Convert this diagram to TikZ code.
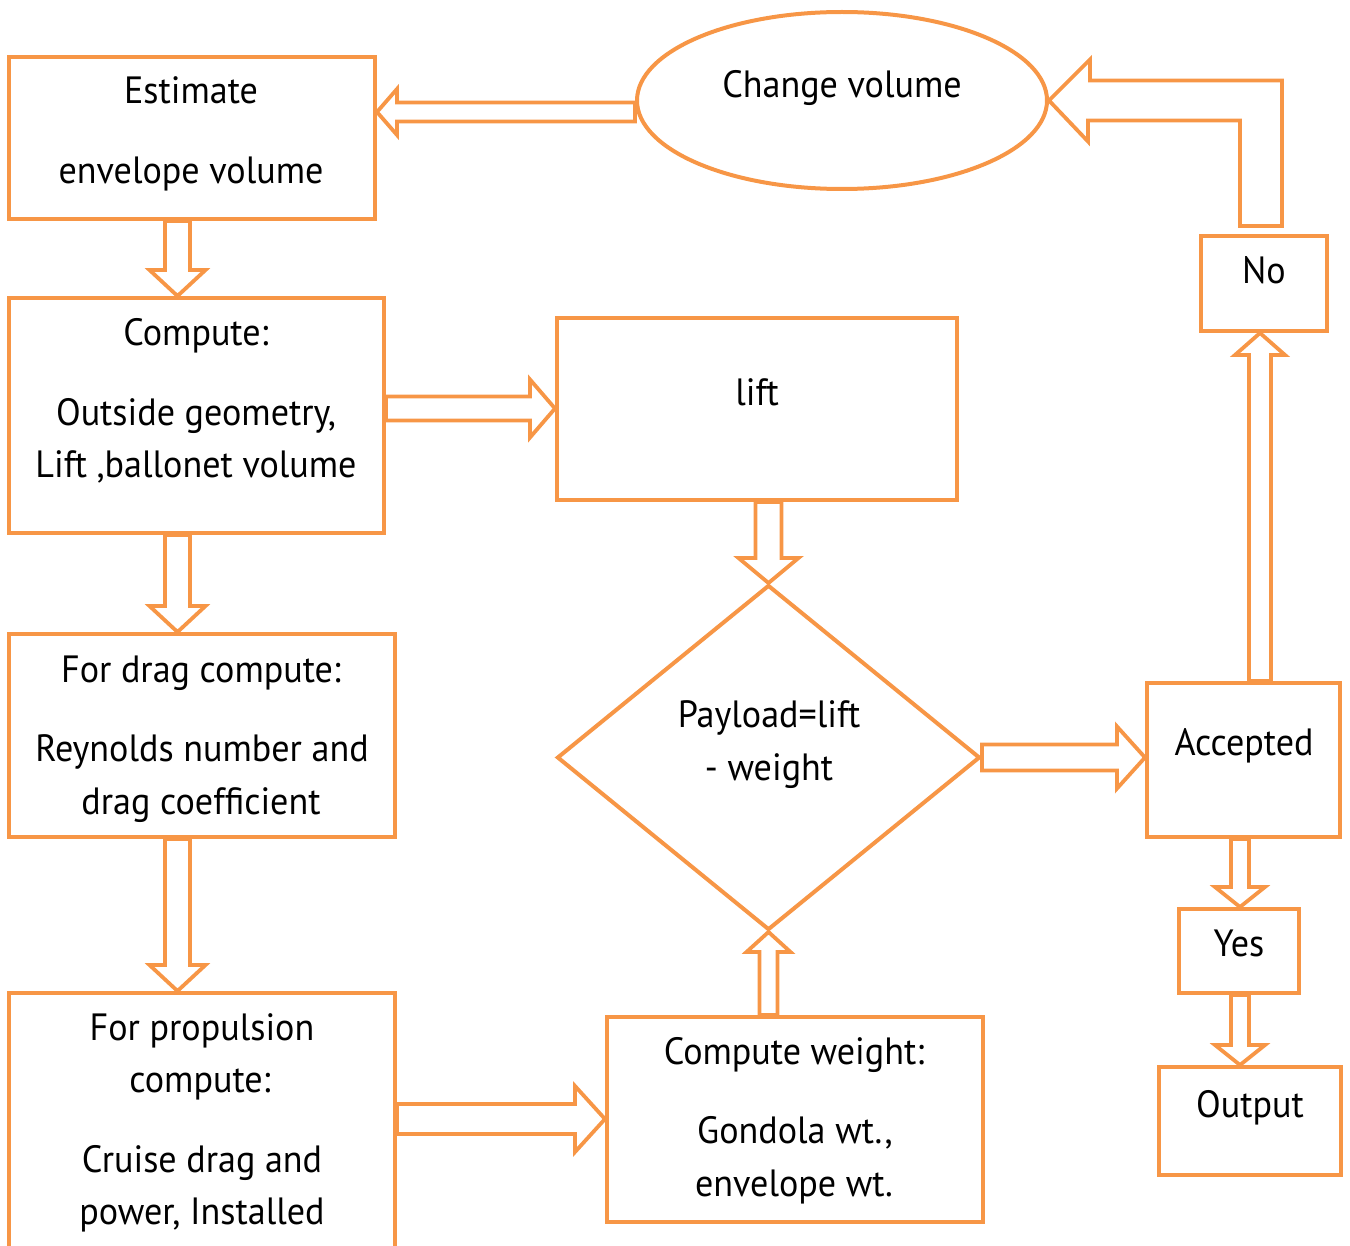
\documentclass[tikz,border=0pt]{standalone}
\usepackage{fontspec}
\setmainfont{PT Sans}[FakeStretch=0.95]
\usetikzlibrary{shapes.geometric,calc}
\definecolor{flowor}{RGB}{247,150,70}
\tikzset{
  flowbox/.style={draw=flowor, line width=2pt, rectangle, inner sep=0pt},
  blockarr/.style={draw=flowor, line width=1.9pt, line join=miter},
  lbl/.style={anchor=base, inner sep=0pt, font=\fontsize{19}{22}\selectfont},
}
% block arrow: start, tip, half shaft, half head, head length
\newcommand{\blockarrow}[5]{%
  \path (#1) coordinate (bs) (#2) coordinate (bt);
  \path ($(bt)!#5!(bs)$) coordinate (bb);
  \draw[blockarr] ($(bs)!#3!90:(bt)$) -- ($(bb)!#3!90:(bt)$) -- ($(bb)!#4!90:(bt)$) -- (bt)
    -- ($(bb)!#4!-90:(bt)$) -- ($(bb)!#3!-90:(bt)$) -- ($(bs)!#3!-90:(bt)$) -- cycle;
}
\begin{document}
\begin{tikzpicture}[x=0.5pt,y=-0.5pt]
    \useasboundingbox (0,0) rectangle (1350,1246);
    % boxes
    \node[flowbox, minimum width=183pt, minimum height=81pt] (est) at (192,138) {};
    \node[flowbox, minimum width=187.5pt, minimum height=117.5pt] (comp) at (196.5,415.5) {};
    \node[flowbox, minimum width=193pt, minimum height=101.5pt] (drag) at (202,735.5) {};
    \node[flowbox, minimum width=193pt, minimum height=130pt] (prop) at (202,1123) {};
    \node[flowbox, minimum width=200pt, minimum height=91pt] (lift) at (757,409) {};
    \node[draw=flowor, line width=2pt, diamond, inner sep=0pt,
          minimum width=211.5pt, minimum height=172.5pt] (dia) at (768.5,757.5) {};
    \node[flowbox, minimum width=188pt, minimum height=102.5pt] (cw) at (795,1119.5) {};
    \node[draw=flowor, line width=2pt, ellipse, inner sep=0pt,
          minimum width=205pt, minimum height=88.5pt] (chg) at (842,100.5) {};
    \node[flowbox, minimum width=63pt, minimum height=47.5pt] (no) at (1264,283.5) {};
    \node[flowbox, minimum width=96.5pt, minimum height=77pt] (acc) at (1243.5,760) {};
    \node[flowbox, minimum width=60pt, minimum height=42pt] (yes) at (1239,951) {};
    \node[flowbox, minimum width=91pt, minimum height=54pt] (out) at (1250,1121) {};
    % texts
    \node[lbl] (est1) at (191,104) {Estimate};
    \node[lbl] (est2) at (191,184) {envelope volume};
    \node[lbl] (comp1) at (196,346) {Compute:};
    \node[lbl] (comp2) at (196,425) {Outside geometry,};
    \node[lbl] (comp3) at (196,477) {Lift ,ballonet volume};
    \node[lbl] (drag1) at (201,682) {For drag compute:};
    \node[lbl] (drag2) at (202,761) {Reynolds number and};
    \node[lbl] (drag3) at (201,814) {drag coefficient};
    \node[lbl] (prop1) at (202,1040) {For propulsion};
    \node[lbl] (prop2) at (200,1092) {compute:};
    \node[lbl] (prop3) at (202,1172) {Cruise drag and};
    \node[lbl] (prop4) at (202,1224) {power, Installed};
    \node[lbl] (lift1) at (757,405) {lift};
    \node[lbl] (dia1) at (769,727) {Payload=lift};
    \node[lbl] (dia2) at (769,780) {- weight};
    \node[lbl] (cw1) at (794,1064) {Compute weight:};
    \node[lbl] (cw2) at (795,1143) {Gondola wt.,};
    \node[lbl] (cw3) at (794,1196) {envelope wt.};
    \node[lbl] (chg1) at (842,98) {Change volume};
    \node[lbl] (no1) at (1264,284) {No};
    \node[lbl] (acc1) at (1244,755) {Accepted};
    \node[lbl] (yes1) at (1239,956) {Yes};
    \node[lbl] (out1) at (1250,1117) {Output};
    % block arrows
    \blockarrow{177.5,0 |- est.south}{177.5,0 |- comp.north}{6.25pt}{14pt}{13pt}
    \blockarrow{177.5,0 |- comp.south}{177.5,0 |- drag.north}{6.25pt}{14pt}{13pt}
    \blockarrow{177.5,0 |- drag.south}{177.5,0 |- prop.north}{6.25pt}{14pt}{13pt}
    \blockarrow{comp.east |- 0,408.5}{lift.west |- 0,408.5}{6pt}{14.5pt}{12.5pt}
    \blockarrow{prop.east |- 0,1119}{cw.west |- 0,1119}{7.5pt}{16.5pt}{15pt}
    \blockarrow{dia.south |- cw.north}{dia.south}{4.5pt}{11pt}{10pt}
    \blockarrow{dia.north |- lift.south}{dia.north}{6.5pt}{15pt}{12.5pt}
    \blockarrow{dia.east}{acc.west |- dia.east}{6.5pt}{15.5pt}{14pt}
    \blockarrow{1260,0 |- acc.north}{1260,0 |- no.south}{5.5pt}{12.5pt}{11pt}
    \blockarrow{chg.west |- 0,112}{est.east |- 0,112}{4.75pt}{11.5pt}{10pt}
    \blockarrow{1240,0 |- acc.south}{1240,0 |- yes.north}{4.5pt}{12.5pt}{10pt}
    \blockarrow{1240,0 |- yes.south}{1240,0 |- out.north}{4.5pt}{12.5pt}{10pt}
    % bent arrow back to the ellipse
    \draw[blockarr] (chg.east) -- ++(41,-41) -- ++(0,21) -- (1282,80.5) -- (1282,226)
        -- (1240,226) -- (1240,120.5) -- (1088,120.5) -- (1088,141.5) -- cycle;
\end{tikzpicture}
\end{document}
